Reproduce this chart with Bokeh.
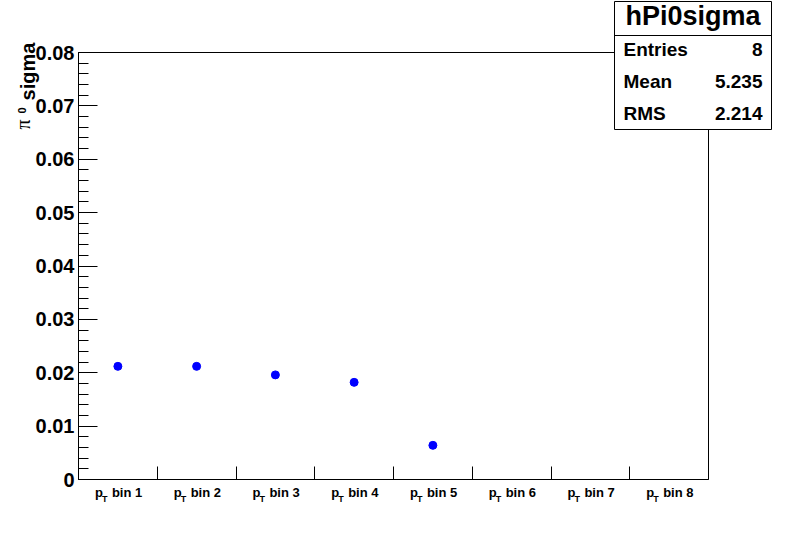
import math
from bokeh.plotting import figure
from bokeh.models import Range1d, FixedTicker, LinearAxis, ColumnDataSource
from bokeh.core.properties import value
from bokeh.embed import file_html
from bokeh.resources import INLINE

# ---- data ----
bin_centers = [0.5, 1.5, 2.5, 3.5, 4.5, 5.5, 6.5, 7.5]
bin_text = ["bin 1", "bin 2", "bin 3", "bin 4", "bin 5", "bin 6", "bin 7", "bin 8"]
filled_centers = [0.5, 1.5, 2.5, 3.5, 4.5]
sigma_values = [0.0212, 0.0212, 0.0196, 0.0182, 0.0064]
y_ticks = [0.0, 0.01, 0.02, 0.03, 0.04, 0.05, 0.06, 0.07, 0.08]
y_tick_labels = ["0", "0.01", "0.02", "0.03", "0.04", "0.05", "0.06", "0.07", "0.08"]
x_edges = [1, 2, 3, 4, 5, 6, 7]
stats_title = "hPi0sigma"
stats_names = ["Entries", "Mean", "RMS"]
stats_values = ["8", "5.235", "2.214"]

FONT = "Liberation Sans"
X0, X1, Y0, Y1 = 0.0, 8.0, 0.0, 0.08

# frame geometry in canvas pixels
FR_L, FR_T, FR_R, FR_B = 78, 52, 708, 479
W, H = 780, 525


def dx(px):
    return X0 + (px - FR_L) * (X1 - X0) / (FR_R - FR_L)


def dy(py):
    return Y0 + (FR_B - py) * (Y1 - Y0) / (FR_B - FR_T)


p = figure(width=W, height=H, output_backend="svg", toolbar_location=None,
           x_range=Range1d(X0, X1), y_range=Range1d(Y0, Y1),
           min_border_left=FR_L, min_border_right=W - FR_R, min_border_top=FR_T,
           min_border_bottom=H - FR_B, x_axis_location=None, y_axis_location=None)
p.outline_line_color = "black"
p.outline_line_width = 1
p.xgrid.visible = False
p.ygrid.visible = False
p.background_fill_color = "white"
p.border_fill_color = "white"

# left axis
minor = [round(i * 0.002, 4) for i in range(0, 41)]
yax = LinearAxis(ticker=FixedTicker(ticks=y_ticks, minor_ticks=minor))
yax.major_label_overrides = {t: s for t, s in zip(y_ticks, y_tick_labels)}
yax.major_tick_in = 19
yax.major_tick_out = 0
yax.minor_tick_in = 10
yax.minor_tick_out = 0
yax.major_label_standoff = 4
yax.major_label_text_font = FONT
yax.major_label_text_font_style = "bold"
yax.major_label_text_font_size = "20px"
yax.major_label_text_color = "black"
yax.axis_line_color = "black"
yax.major_tick_line_color = "black"
yax.minor_tick_line_color = "black"
p.add_layout(yax, "left")

# bottom axis
xax = LinearAxis(ticker=FixedTicker(ticks=x_edges, minor_ticks=[]))
xax.major_label_overrides = {t: "" for t in x_edges}
xax.major_tick_in = 13
xax.major_tick_out = 0
xax.minor_tick_in = 0
xax.minor_tick_out = 0
xax.axis_line_color = "black"
xax.major_tick_line_color = "black"
xax.major_label_text_font_size = "1px"
p.add_layout(xax, "below")

# points
p.scatter(filled_centers, sigma_values, size=8, color="#0000ff", marker="circle")

# x category labels: p_T bin N (below the axis, screen offsets)
n = len(bin_centers)
src = ColumnDataSource(dict(x=bin_centers, y=[Y0] * n, p=["p"] * n,
                            t=["T"] * n, b=bin_text))
tcommon = dict(x="x", y="y", source=src, text_font=value(FONT),
               text_font_style="bold", text_color="black",
               text_align="left", text_baseline="middle", level="overlay")
p.text(text="p", x_offset=-23, y_offset=13.3, text_font_size="13px", **tcommon)
p.text(text="t", x_offset=-16, y_offset=19.6, text_font_size="9px", **tcommon)
p.text(text="b", x_offset=-6, y_offset=13.3, text_font_size="13px", **tcommon)

# y axis title: pi^0 sigma (rotated, centred pieces)
rot = dict(angle=math.pi / 2, text_align="center", text_baseline="middle",
           text_color="black", level="overlay")
p.text(x=[dx(27.2)], y=[dy(71)], text=["sigma"], text_font=value(FONT),
       text_font_style="bold", text_font_size="20px", **rot)
p.text(x=[dx(21.5)], y=[dy(110)], text=["0"], text_font=value(FONT),
       text_font_style="bold", text_font_size="11px", **rot)
p.text(x=[dx(22.3)], y=[dy(124)], text=["\u03c0"],
       text_font=value("Liberation Serif"), text_font_size="20px", **rot)

# stats box
p.quad(left=[dx(614)], right=[dx(771)], top=[dy(1)], bottom=[dy(129)],
       fill_color="white", line_color="black", line_width=1, level="overlay")
p.segment(x0=[dx(614)], x1=[dx(771)], y0=[dy(35)], y1=[dy(35)],
          line_color="black", line_width=1, level="overlay")
p.text(x=[dx(692.5)], y=[dy(15.5)], text=[stats_title], text_align="center",
       text_baseline="middle", text_font=value(FONT), text_font_style="bold",
       text_font_size="27px", text_color="black", level="overlay")
rows_py = [48.7, 80.6, 112.6]
p.text(x=[dx(623)] * 3, y=[dy(v) for v in rows_py], text=stats_names,
       text_align="left", text_baseline="middle", text_font=value(FONT),
       text_font_style="bold", text_font_size="19px", text_color="black",
       level="overlay")
p.text(x=[dx(762)] * 3, y=[dy(v) for v in rows_py], text=stats_values,
       text_align="right", text_baseline="middle", text_font=value(FONT),
       text_font_style="bold", text_font_size="19px", text_color="black",
       level="overlay")

open("out.html", "w").write(file_html(p, INLINE))
